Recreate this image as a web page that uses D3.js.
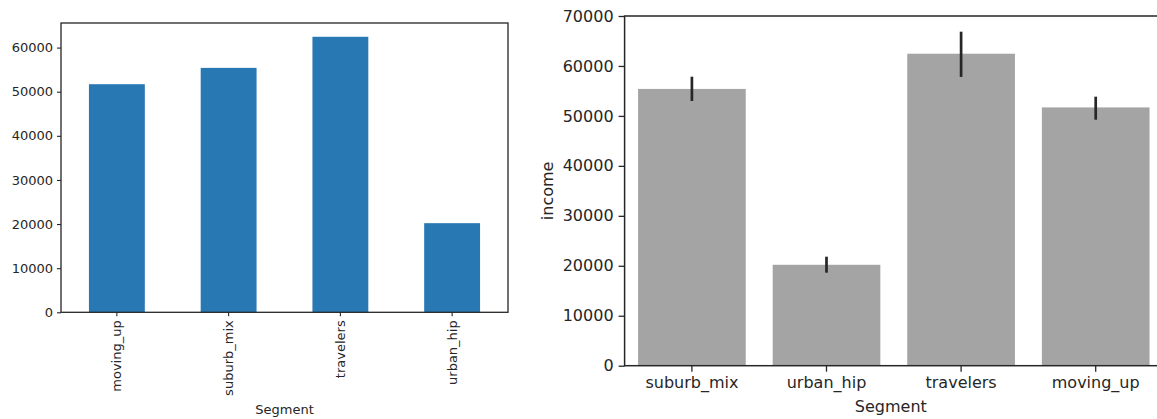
<!DOCTYPE html>
<html>
<head>
<meta charset="utf-8">
<script src="https://cdn.jsdelivr.net/npm/d3@7"></script>
<style>
  html, body { margin: 0; padding: 0; background: #fff; }
  svg { display: block; overflow: hidden; }
  text { font-family: "DejaVu Sans", sans-serif; }
</style>
</head>
<body>
<svg id="chart" width="1157" height="419"></svg>
<script>
// Mean income per segment (alphabetical order, left panel)
const segmentsAlpha = ["moving_up", "suburb_mix", "travelers", "urban_hip"];
const incomeAlpha = [51700, 55400, 62450, 20200];

// Same means in first-seen order with 95% CI bounds (right panel)
const segmentsSeen = ["suburb_mix", "urban_hip", "travelers", "moving_up"];
const incomeSeen = [55400, 20200, 62450, 51700];
const ciLow = [52990, 18620, 57810, 49240];
const ciHigh = [57850, 21820, 66860, 53850];

const leftTicks = [0, 10000, 20000, 30000, 40000, 50000, 60000];
const rightTicks = [0, 10000, 20000, 30000, 40000, 50000, 60000, 70000];

const svg = d3.select("#chart");

// ---------- Left panel: pandas-style bar plot ----------
{
  const L = { left: 61, right: 508, top: 23, bottom: 312.3 };
  const ink = "#262626";
  const x = d3.scaleBand().domain(segmentsAlpha).range([L.left, L.right]).paddingInner(0.5).paddingOuter(0.25);
  const y = d3.scaleLinear().domain([0, 62450 * 1.05]).range([L.bottom, L.top]);
  const g = svg.append("g");

  g.selectAll("rect.bar").data(segmentsAlpha).join("rect")
    .attr("class", "bar")
    .attr("x", d => x(d))
    .attr("width", x.bandwidth())
    .attr("y", (d, i) => y(incomeAlpha[i]))
    .attr("height", (d, i) => y(0) - y(incomeAlpha[i]))
    .attr("fill", "#2878b4");

  const yAxis = g.append("g").attr("transform", `translate(${L.left},0)`)
    .call(d3.axisLeft(y).tickValues(leftTicks).tickFormat(d3.format("d")).tickSize(4).tickPadding(4));
  yAxis.select(".domain").remove();
  yAxis.selectAll(".tick line").attr("stroke", ink).attr("stroke-width", 1.1);
  yAxis.selectAll(".tick text").attr("fill", ink).style("font-size", "13px");

  const xAxis = g.append("g").attr("transform", `translate(0,${L.bottom})`)
    .call(d3.axisBottom(x).tickSize(4).tickPadding(4));
  xAxis.select(".domain").remove();
  xAxis.selectAll(".tick line").attr("stroke", ink).attr("stroke-width", 1.1);
  xAxis.selectAll(".tick text")
    .attr("fill", ink).style("font-size", "13px")
    .attr("text-anchor", "end")
    .attr("transform", "rotate(-90)")
    .attr("x", -8).attr("y", 0).attr("dy", "0.35em");

  g.append("rect")
    .attr("x", L.left).attr("y", L.top)
    .attr("width", L.right - L.left).attr("height", L.bottom - L.top)
    .attr("fill", "none").attr("stroke", ink).attr("stroke-width", 1.3);

  g.append("text")
    .attr("x", (L.left + L.right) / 2).attr("y", 414)
    .attr("text-anchor", "middle").attr("fill", ink).style("font-size", "13px")
    .text("Segment");
}

// ---------- Right panel: seaborn-style bar plot with error bars ----------
{
  const R = { left: 624.6, right: 1163, top: 16, bottom: 365.7 };
  const ink = "#262626";
  const x = d3.scaleBand().domain(segmentsSeen).range([R.left, R.right]).paddingInner(0.2).paddingOuter(0.1);
  const y = d3.scaleLinear().domain([0, 70000]).range([R.bottom, R.top]);
  const g = svg.append("g");

  g.selectAll("rect.bar").data(segmentsSeen).join("rect")
    .attr("class", "bar")
    .attr("x", d => x(d))
    .attr("width", x.bandwidth())
    .attr("y", (d, i) => y(incomeSeen[i]))
    .attr("height", (d, i) => y(0) - y(incomeSeen[i]))
    .attr("fill", "#a3a4a3");

  g.selectAll("line.err").data(segmentsSeen).join("line")
    .attr("class", "err")
    .attr("x1", d => x(d) + x.bandwidth() / 2)
    .attr("x2", d => x(d) + x.bandwidth() / 2)
    .attr("y1", (d, i) => y(ciLow[i]))
    .attr("y2", (d, i) => y(ciHigh[i]))
    .attr("stroke", ink).attr("stroke-width", 2.7);

  const yAxis = g.append("g").attr("transform", `translate(${R.left},0)`)
    .call(d3.axisLeft(y).tickValues(rightTicks).tickFormat(d3.format("d")).tickSize(6).tickPadding(5));
  yAxis.select(".domain").remove();
  yAxis.selectAll(".tick line").attr("stroke", ink).attr("stroke-width", 1.3);
  yAxis.selectAll(".tick text").attr("fill", ink).style("font-size", "16px");

  const xAxis = g.append("g").attr("transform", `translate(0,${R.bottom})`)
    .call(d3.axisBottom(x).tickSize(6).tickPadding(5));
  xAxis.select(".domain").remove();
  xAxis.selectAll(".tick line").attr("stroke", ink).attr("stroke-width", 1.3);
  xAxis.selectAll(".tick text").attr("fill", ink).style("font-size", "16px");

  g.append("rect")
    .attr("x", R.left).attr("y", R.top)
    .attr("width", R.right - R.left).attr("height", R.bottom - R.top)
    .attr("fill", "none").attr("stroke", ink).attr("stroke-width", 1.5);

  g.append("text")
    .attr("x", (R.left + R.right) / 2 - 3).attr("y", 412)
    .attr("text-anchor", "middle").attr("fill", ink).style("font-size", "16px")
    .text("Segment");

  g.append("text")
    .attr("transform", `translate(553,${(R.top + R.bottom) / 2}) rotate(-90)`)
    .attr("text-anchor", "middle").attr("fill", ink).style("font-size", "16px")
    .text("income");
}
</script>
</body>
</html>
